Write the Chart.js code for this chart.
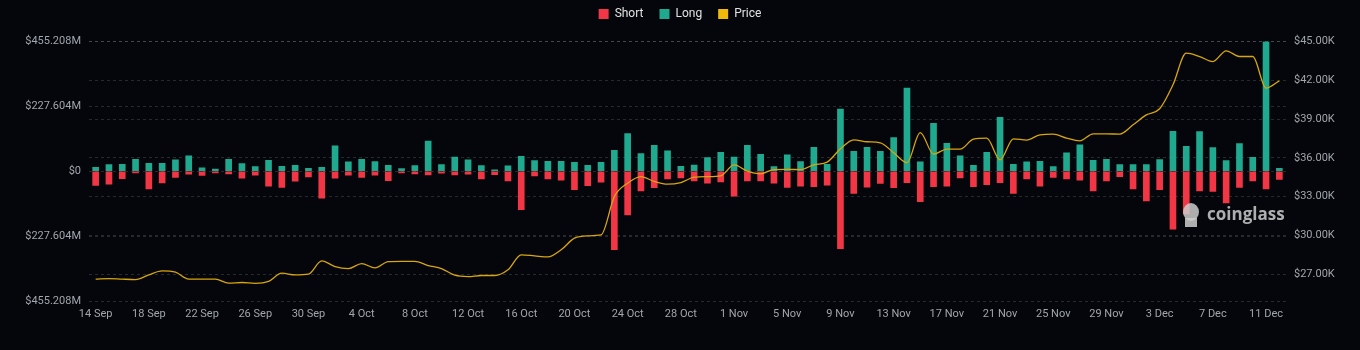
<!DOCTYPE html>
<html>
<head>
<meta charset="utf-8">
<script src="https://cdn.jsdelivr.net/npm/chart.js@4/dist/chart.umd.min.js"></script>
<style>
  html, body { margin: 0; padding: 0; background: #04060b; }
  #wrap { width: 1360px; height: 350px; }
</style>
</head>
<body>
<div id="wrap"><canvas id="c" width="1360" height="350"></canvas></div>
<script>
// ---- data ----
const startDate = new Date(2023, 8, 14);
const monthNames = ['Jan','Feb','Mar','Apr','May','Jun','Jul','Aug','Sep','Oct','Nov','Dec'];
const dates = [];
for (let i = 0; i < 90; i++) {
  const d = new Date(startDate.getFullYear(), startDate.getMonth(), startDate.getDate() + i);
  dates.push(d.getDate() + ' ' + monthNames[d.getMonth()]);
}

// liquidations, millions USD
const longLiq = [14,23,24.5,42,28,28,40,54,12,8,42,27,16,38.5,17.5,21,10.5,14,89,33,42,34,21,
  9.3,20,106,23,50,40,20,4.7,18.7,52.5,37,35,35,31.5,21,31.5,73.5,132,62,91,72,17.5,22,
  48,66.5,50,91,59.5,16,58,34,84,24.5,218,70,84,70,118,292,33,168,98,54,21,66.5,
  189,24.5,33,35,16,65,93,38.5,42,23,23,23,41,140,87.5,139,83,37,97,49,455.208,10.5];

const shortLiq = [50,45.5,25.7,6,62,41,22,10.5,15,6,9.3,24.5,14,52.5,57,35,20,94.5,24.5,14,22,14,33,
  6,9.3,13,7,13,10.5,27,11.7,34,135,16,27,31.5,65,51,38.5,275,153,69,58,27,23,34,
  42,37,87.5,34,34,42,57,52.5,54,49,272,78,56,43,58,40,107,54,52.5,23,54,47,
  40,78,27,52.5,22,27,31.5,69,34,18.7,62,104,65,203,150,69,71,111,57,34,62,29];

const price = [26630,26675,26630,26600,26960,27270,27170,26630,26630,26630,26320,26370,26300,26450,27090,26960,27020,
  28040,27600,27450,27830,27500,27990,28010,28010,27680,27450,26940,26830,26910,26910,27350,
  28510,28430,28350,28900,29800,29980,30050,33010,34050,34560,34180,33970,34100,34510,
  34560,34620,35470,34980,34770,35100,35110,35100,35470,35680,36700,37400,37250,37170,36400,35640,37960,36290,36680,36680,37450,37530,
  35850,37480,37380,37790,37840,37530,37320,37860,37860,37840,38560,39330,39800,41650,44100,43840,43450,44280,43840,43840,41400,41960];

const leftTicks = [-455.208, -227.604, 0, 227.604, 455.208];
const rightTicks = [27000, 30000, 33000, 36000, 39000, 42000, 45000];

// ---- chart ----
const gridColor = 'rgba(255,255,255,0.14)';
const tickColor = '#a2a5ac';
const baseFont = { family: 'Roboto, "Noto Sans", sans-serif', size: 11 };

const legendFit = {
  id: 'legendFit',
  beforeInit(chart) {
    const orig = chart.legend.fit;
    chart.legend.fit = function () { orig.call(this); this.height = 49.5; };
  }
};

const watermark = {
  id: 'watermark',
  afterDatasetsDraw(chart) {
    const ctx = chart.ctx;
    ctx.save();
    ctx.fillStyle = 'rgba(205,205,205,0.85)';
    ctx.beginPath();
    ctx.ellipse(1191, 212, 8, 9, 0, 0, Math.PI * 2);
    ctx.fill();
    ctx.fillRect(1185, 218, 12, 9);
    ctx.font = 'bold 17px "Open Sans", sans-serif';
    ctx.textBaseline = 'middle';
    ctx.textAlign = 'left';
    ctx.fillText('coinglass', 1207, 215);
    ctx.restore();
  }
};

new Chart(document.getElementById('c'), {
  type: 'bar',
  data: {
    labels: dates,
    datasets: [
      {
        label: 'Short',
        data: shortLiq.map(v => -v),
        backgroundColor: '#f23645',
        borderWidth: 0,
        barThickness: 6,
        yAxisID: 'y',
        order: 1
      },
      {
        label: 'Long',
        data: longLiq,
        backgroundColor: '#1fa98f',
        borderWidth: 0,
        barThickness: 6,
        yAxisID: 'y',
        order: 1
      },
      {
        type: 'line',
        label: 'Price',
        data: price,
        borderColor: '#d9a60c',
        backgroundColor: '#f0b90b',
        borderWidth: 1.3,
        pointRadius: 0,
        tension: 0.4,
        cubicInterpolationMode: 'monotone',
        yAxisID: 'y2',
        order: 0
      }
    ]
  },
  options: {
    responsive: false,
    devicePixelRatio: 1,
    animation: false,
    layout: { padding: { top: -8, left: 0, right: 0, bottom: 0 } },
    plugins: {
      legend: {
        position: 'top',
        align: 'center',
        labels: {
          color: '#e2e2e2',
          font: { family: 'Roboto, "Noto Sans", sans-serif', size: 12 },
          boxWidth: 10,
          boxHeight: 10,
          padding: 16,
          sort: (a, b) => a.datasetIndex - b.datasetIndex,
          generateLabels(chart) {
            return chart.data.datasets.map((ds, i) => ({
              text: ds.label,
              fillStyle: ds.backgroundColor,
              strokeStyle: ds.backgroundColor,
              lineWidth: 0,
              fontColor: '#e2e2e2',
              hidden: !chart.isDatasetVisible(i),
              datasetIndex: i
            }));
          }
        }
      },
      tooltip: { enabled: false }
    },
    scales: {
      x: {
        stacked: true,
        grid: { display: false, drawTicks: false },
        border: { display: false },
        ticks: {
          color: tickColor,
          font: baseFont,
          autoSkip: false,
          maxRotation: 0,
          padding: 7,
          callback: function (v, i) { return i % 4 === 0 ? dates[i] : ''; }
        },
        afterFit(scale) { scale.height = 49; }
      },
      y: {
        position: 'left',
        stacked: true,
        min: leftTicks[0],
        max: leftTicks[leftTicks.length - 1],
        afterBuildTicks(scale) { scale.ticks = leftTicks.map(v => ({ value: v })); },
        grid: { color: gridColor, drawTicks: false },
        border: { display: false, dash: [3, 3] },
        ticks: {
          color: tickColor,
          font: baseFont,
          padding: 8,
          callback: v => v === 0 ? '$0' : '$' + Math.abs(v).toFixed(3) + 'M'
        },
        afterFit(scale) { scale.width = 89; }
      },
      y2: {
        position: 'right',
        min: 24940,
        max: 45000,
        afterBuildTicks(scale) { scale.ticks = rightTicks.map(v => ({ value: v })); },
        grid: { color: gridColor, drawTicks: false },
        border: { display: false, dash: [3, 3] },
        ticks: {
          color: tickColor,
          font: baseFont,
          padding: 8,
          callback: v => '$' + (v / 1000).toFixed(2) + 'K'
        },
        afterFit(scale) { scale.width = 74; }
      }
    }
  },
  plugins: [legendFit, watermark]
});
</script>
</body>
</html>
